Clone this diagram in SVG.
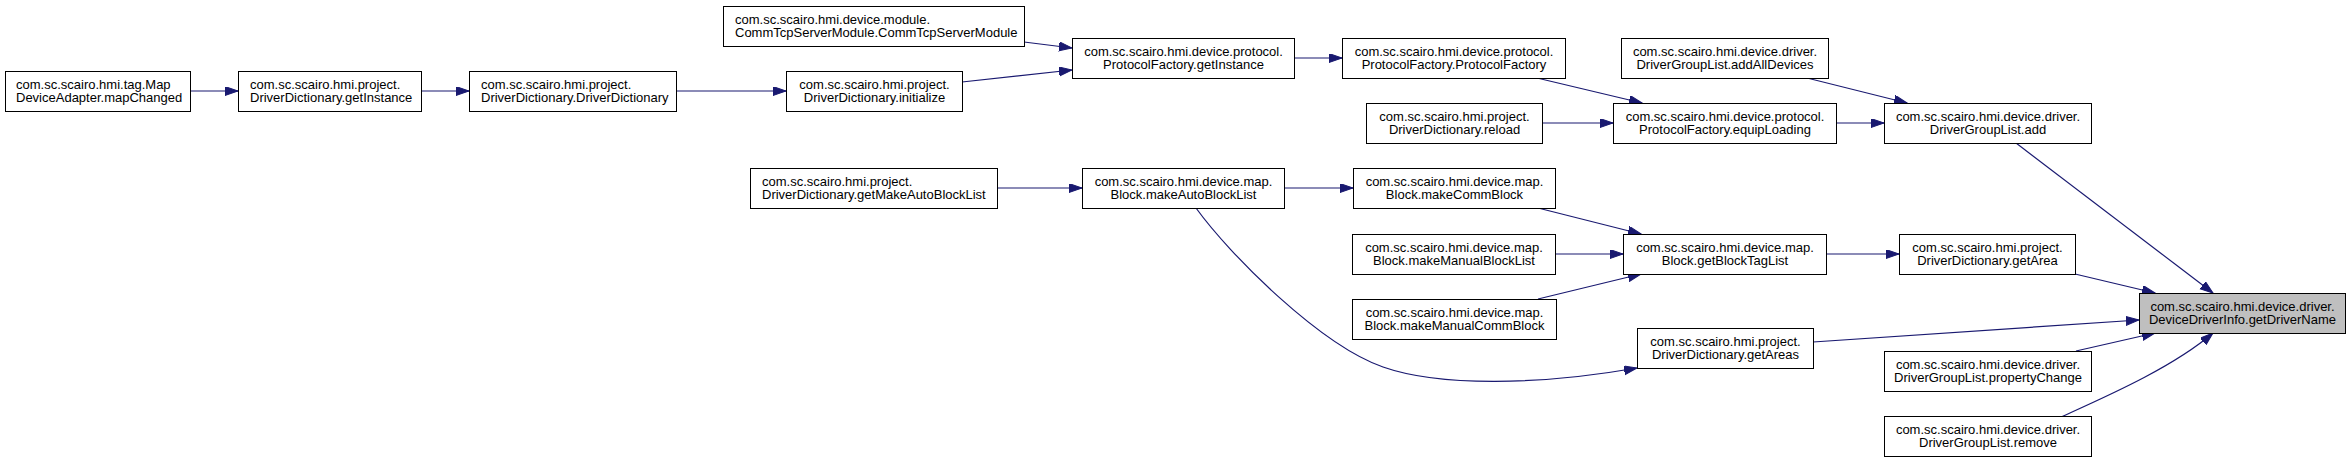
<svg xmlns="http://www.w3.org/2000/svg" width="2351" height="463" viewBox="0 0 2351 463">
<style>
.node rect{fill:#ffffff;stroke:#000000;stroke-width:1}
.node.focus rect{fill:#bfbfbf}
.node text{font-family:"Liberation Sans",Arial,sans-serif;font-size:13px;fill:#000000}
.c{text-anchor:middle}
.l{text-anchor:start}
.edges path{fill:none;stroke:#191970;stroke-width:1.2}
</style>
<defs>
<marker id="ah" markerUnits="userSpaceOnUse" markerWidth="14" markerHeight="10" refX="13" refY="4.5" orient="auto">
<path d="M0,0 L13,4.5 L0,9 z" fill="#191970" stroke="#191970" stroke-width="1"/>
</marker>
</defs>
<rect width="2351" height="463" fill="#ffffff"/>
<g class="edges">
<path marker-end="url(#ah)" d="M190,91 L238,91"/>
<path marker-end="url(#ah)" d="M421,91 L469,91"/>
<path marker-end="url(#ah)" d="M676,91 L786,91"/>
<path marker-end="url(#ah)" d="M962,82 L1072,70"/>
<path marker-end="url(#ah)" d="M1024,42 L1072,48"/>
<path marker-end="url(#ah)" d="M1294,58 L1342,58"/>
<path marker-end="url(#ah)" d="M1537,78 L1642,103"/>
<path marker-end="url(#ah)" d="M1542,123 L1613,123"/>
<path marker-end="url(#ah)" d="M1836,123 L1884,123"/>
<path marker-end="url(#ah)" d="M1807,78 L1907,103"/>
<path marker-end="url(#ah)" d="M2016,143 L2213,293"/>
<path marker-end="url(#ah)" d="M997,188 L1082,188"/>
<path marker-end="url(#ah)" d="M1284,188 L1353,188"/>
<path marker-end="url(#ah)" d="M1538,208 L1641,234"/>
<path marker-end="url(#ah)" d="M1555,254 L1623,254"/>
<path marker-end="url(#ah)" d="M1538,299 L1641,274"/>
<path marker-end="url(#ah)" d="M1826,254 L1899,254"/>
<path marker-end="url(#ah)" d="M2075,274 L2155,293"/>
<path marker-end="url(#ah)" d="M1813,342 L2139,320"/>
<path marker-end="url(#ah)" d="M2076,351 L2155,333"/>
<path marker-end="url(#ah)" d="M2061,417 C2105,397 2172,368 2213,333"/>
<path marker-end="url(#ah)" d="M1196,208 C1230,255 1320,345 1383,367 C1440,387 1540,385 1637,368"/>
</g>
<g id="n1" class="node"><rect x="5.5" y="71.5" width="185" height="40"/><text class="l" x="16" y="89">com.sc.scairo.hmi.tag.Map</text><text class="l" x="16" y="102">DeviceAdapter.mapChanged</text></g>
<g id="n2" class="node"><rect x="238.5" y="71.5" width="183" height="40"/><text class="l" x="250" y="89">com.sc.scairo.hmi.project.</text><text class="l" x="250" y="102">DriverDictionary.getInstance</text></g>
<g id="n3" class="node"><rect x="469.5" y="71.5" width="207" height="40"/><text class="l" x="481" y="89">com.sc.scairo.hmi.project.</text><text class="l" x="481" y="102">DriverDictionary.DriverDictionary</text></g>
<g id="n4" class="node"><rect x="786.5" y="71.5" width="176" height="40"/><text class="c" x="874.5" y="89">com.sc.scairo.hmi.project.</text><text class="c" x="874.5" y="102">DriverDictionary.initialize</text></g>
<g id="n5" class="node"><rect x="723.5" y="6.5" width="301" height="40"/><text class="l" x="735" y="24">com.sc.scairo.hmi.device.module.</text><text class="l" x="735" y="37">CommTcpServerModule.CommTcpServerModule</text></g>
<g id="n6" class="node"><rect x="1072.5" y="38.5" width="222" height="40"/><text class="c" x="1183.5" y="56">com.sc.scairo.hmi.device.protocol.</text><text class="c" x="1183.5" y="69">ProtocolFactory.getInstance</text></g>
<g id="n7" class="node"><rect x="1342.5" y="38.5" width="223" height="40"/><text class="c" x="1454" y="56">com.sc.scairo.hmi.device.protocol.</text><text class="c" x="1454" y="69">ProtocolFactory.ProtocolFactory</text></g>
<g id="n8" class="node"><rect x="1366.5" y="103.5" width="176" height="40"/><text class="c" x="1454.5" y="121">com.sc.scairo.hmi.project.</text><text class="c" x="1454.5" y="134">DriverDictionary.reload</text></g>
<g id="n9" class="node"><rect x="1613.5" y="103.5" width="223" height="40"/><text class="c" x="1725" y="121">com.sc.scairo.hmi.device.protocol.</text><text class="c" x="1725" y="134">ProtocolFactory.equipLoading</text></g>
<g id="n10" class="node"><rect x="1621.5" y="38.5" width="207" height="40"/><text class="c" x="1725" y="56">com.sc.scairo.hmi.device.driver.</text><text class="c" x="1725" y="69">DriverGroupList.addAllDevices</text></g>
<g id="n11" class="node"><rect x="1884.5" y="103.5" width="207" height="40"/><text class="c" x="1988" y="121">com.sc.scairo.hmi.device.driver.</text><text class="c" x="1988" y="134">DriverGroupList.add</text></g>
<g id="n12" class="node"><rect x="750.5" y="168.5" width="247" height="40"/><text class="l" x="762" y="186">com.sc.scairo.hmi.project.</text><text class="l" x="762" y="199">DriverDictionary.getMakeAutoBlockList</text></g>
<g id="n13" class="node"><rect x="1082.5" y="168.5" width="202" height="40"/><text class="c" x="1183.5" y="186">com.sc.scairo.hmi.device.map.</text><text class="c" x="1183.5" y="199">Block.makeAutoBlockList</text></g>
<g id="n14" class="node"><rect x="1353.5" y="168.5" width="202" height="40"/><text class="c" x="1454.5" y="186">com.sc.scairo.hmi.device.map.</text><text class="c" x="1454.5" y="199">Block.makeCommBlock</text></g>
<g id="n15" class="node"><rect x="1352.5" y="234.5" width="203" height="40"/><text class="c" x="1454" y="252">com.sc.scairo.hmi.device.map.</text><text class="c" x="1454" y="265">Block.makeManualBlockList</text></g>
<g id="n16" class="node"><rect x="1352.5" y="299.5" width="204" height="40"/><text class="c" x="1454.5" y="317">com.sc.scairo.hmi.device.map.</text><text class="c" x="1454.5" y="330">Block.makeManualCommBlock</text></g>
<g id="n17" class="node"><rect x="1623.5" y="234.5" width="203" height="40"/><text class="c" x="1725" y="252">com.sc.scairo.hmi.device.map.</text><text class="c" x="1725" y="265">Block.getBlockTagList</text></g>
<g id="n18" class="node"><rect x="1899.5" y="234.5" width="176" height="40"/><text class="c" x="1987.5" y="252">com.sc.scairo.hmi.project.</text><text class="c" x="1987.5" y="265">DriverDictionary.getArea</text></g>
<g id="n19" class="node"><rect x="1637.5" y="328.5" width="176" height="40"/><text class="c" x="1725.5" y="346">com.sc.scairo.hmi.project.</text><text class="c" x="1725.5" y="359">DriverDictionary.getAreas</text></g>
<g id="n20" class="node focus"><rect x="2139.5" y="293.5" width="206" height="40"/><text class="c" x="2242.5" y="311">com.sc.scairo.hmi.device.driver.</text><text class="c" x="2242.5" y="324">DeviceDriverInfo.getDriverName</text></g>
<g id="n21" class="node"><rect x="1884.5" y="351.5" width="207" height="40"/><text class="c" x="1988" y="369">com.sc.scairo.hmi.device.driver.</text><text class="c" x="1988" y="382">DriverGroupList.propertyChange</text></g>
<g id="n22" class="node"><rect x="1884.5" y="416.5" width="207" height="40"/><text class="c" x="1988" y="434">com.sc.scairo.hmi.device.driver.</text><text class="c" x="1988" y="447">DriverGroupList.remove</text></g>
</svg>
